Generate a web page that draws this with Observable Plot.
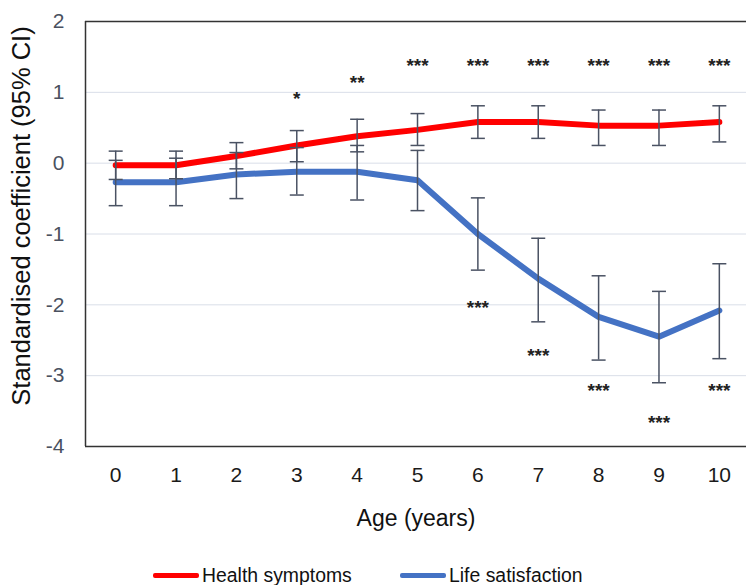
<!DOCTYPE html>
<html>
<head>
<meta charset="utf-8">
<script src="https://cdn.jsdelivr.net/npm/d3@7"></script>
<script src="https://cdn.jsdelivr.net/npm/@observablehq/plot@0.6"></script>
<style>
  body { margin: 0; background: #fff; font-family: "Liberation Sans", Arial, sans-serif; }
  #legend { position: relative; height: 22px; margin-top: 8px; font-size: 19.4px; color: #111; }
  .item { position: absolute; top: 0; display: flex; align-items: center; line-height: 22px; }
  .sw { display: inline-block; width: 46px; height: 5px; border-radius: 2px; margin-right: 3px; }
</style>
</head>
<body>
<div id="chart"></div>
<div id="legend">
  <div class="item" style="left:153px"><span class="sw" style="background:#ff0000"></span>Health symptoms</div>
  <div class="item" style="left:400px"><span class="sw" style="background:#4472c4"></span>Life satisfaction</div>
</div>
<script>
const ages = [0, 1, 2, 3, 4, 5, 6, 7, 8, 9, 10];
const healthMean = [-0.03, -0.03, 0.10, 0.25, 0.38, 0.47, 0.58, 0.58, 0.53, 0.53, 0.58];
const healthLo   = [-0.23, -0.22, -0.08, 0.02, 0.16, 0.25, 0.35, 0.35, 0.25, 0.25, 0.30];
const healthHi   = [0.17, 0.17, 0.29, 0.46, 0.62, 0.70, 0.81, 0.81, 0.75, 0.75, 0.81];
const lifeMean = [-0.27, -0.27, -0.16, -0.12, -0.12, -0.24, -1.00, -1.63, -2.17, -2.45, -2.08];
const lifeLo   = [-0.60, -0.60, -0.50, -0.45, -0.52, -0.67, -1.51, -2.24, -2.78, -3.10, -2.76];
const lifeHi   = [0.04, 0.07, 0.15, 0.22, 0.25, 0.18, -0.49, -1.06, -1.59, -1.81, -1.42];
const healthStars = ["", "", "", "*", "**", "***", "***", "***", "***", "***", "***"];
const healthStarY = [null, null, null, 0.95, 1.18, 1.41, 1.41, 1.41, 1.41, 1.41, 1.41];
const lifeStars = ["", "", "", "", "", "", "***", "***", "***", "***", "***"];
const lifeStarY = [null, null, null, null, null, null, -2.0, -2.68, -3.17, -3.62, -3.17];
const yTicks = [-4, -3, -2, -1, 0, 1, 2];
const gridY = [-3, -2, -1, 0, 1];
const yLabel = "Standardised coefficient (95% CI)";
const xLabel = "Age (years)";

const health = ages.map((a, i) => ({age: a, mean: healthMean[i], lo: healthLo[i], hi: healthHi[i], stars: healthStars[i], sy: healthStarY[i]}));
const life = ages.map((a, i) => ({age: a, mean: lifeMean[i], lo: lifeLo[i], hi: lifeHi[i], stars: lifeStars[i], sy: lifeStarY[i]}));
const all = health.concat(life);

const capSymbol = { draw(ctx) { ctx.moveTo(-7, 0); ctx.lineTo(7, 0); } };
const barColor = "#4a5263";

const chart = Plot.plot({
  width: 746,
  height: 556,
  marginLeft: 85,
  marginTop: 21,
  marginRight: 0,
  marginBottom: 110,
  style: { fontFamily: "'Liberation Sans', Arial, sans-serif", fontSize: "21px", color: "#222", background: "#fff" },
  x: { domain: [-0.5, 10.45] },
  y: { domain: [-4, 2] },
  marks: [
    Plot.ruleY(gridY, { stroke: "#d9dee8", strokeWidth: 1 }),
    Plot.line(health, { x: "age", y: "mean", stroke: "#ff0000", strokeWidth: 6, curve: "linear" }),
    Plot.line(life, { x: "age", y: "mean", stroke: "#4472c4", strokeWidth: 6, curve: "linear" }),
    Plot.ruleX(all, { x: "age", y1: "lo", y2: "hi", stroke: barColor, strokeWidth: 1.5 }),
    Plot.dot(all, { x: "age", y: "lo", symbol: capSymbol, r: 7, stroke: barColor, strokeWidth: 1.5, fill: "none" }),
    Plot.dot(all, { x: "age", y: "hi", symbol: capSymbol, r: 7, stroke: barColor, strokeWidth: 1.5, fill: "none" }),
    Plot.text(all.filter(d => d.stars), { x: "age", y: "sy", text: "stars", fontSize: 19, fontWeight: "bold", fill: "#222", dy: 3 }),
    Plot.ruleX([-0.5], { stroke: "#333", strokeWidth: 1.5 }),
    Plot.ruleY([2, -4], { stroke: "#333", strokeWidth: 1.5 }),
    Plot.axisX({ ticks: ages, tickSize: 0, tickPadding: 21, fontSize: 21, color: "#1a1a1a", label: null }),
    Plot.axisY({ ticks: yTicks, tickSize: 0, tickPadding: 21, fontSize: 21, color: "#4a5160",
      tickFormat: d => String(d), label: null }),
    Plot.text([xLabel], { frameAnchor: "bottom", textAnchor: "middle", text: d => d, dy: 79, fontSize: 23, fill: "#111" }),
    Plot.text([yLabel], { frameAnchor: "left", textAnchor: "middle", lineAnchor: "middle", text: d => d, rotate: -90, dx: -64, dy: -18, fontSize: 25.5, fill: "#111" })
  ]
});
document.getElementById("chart").appendChild(chart);
</script>
</body>
</html>
